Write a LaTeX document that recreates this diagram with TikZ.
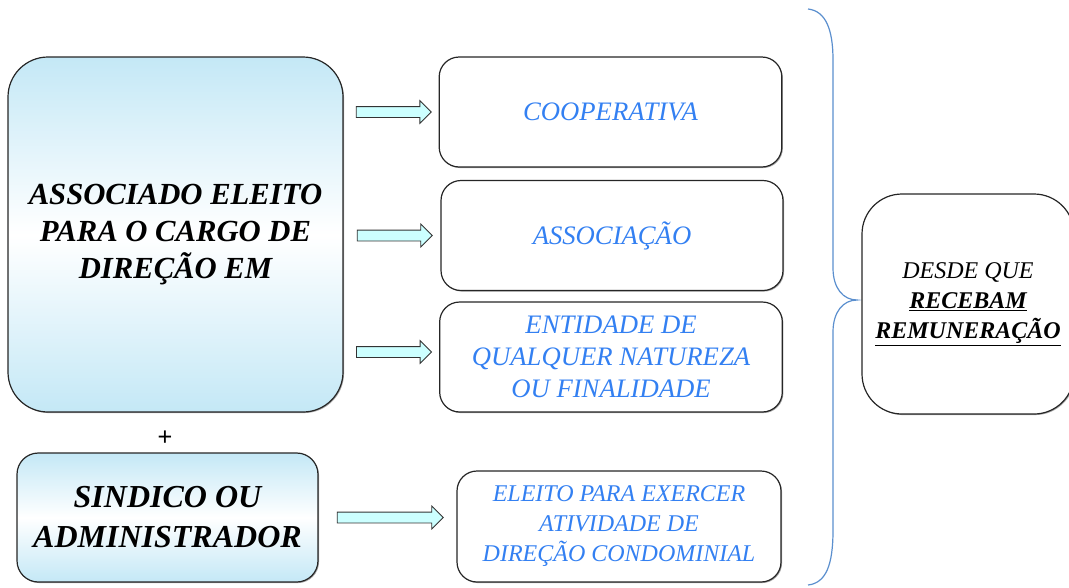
\documentclass[tikz,border=0pt]{standalone}
\usepackage{fontspec}
\setmainfont{Liberation Serif}
\newfontfamily\plusfont{Liberation Sans}
\usetikzlibrary{calc,shapes.arrows,shadows}
\definecolor{cargoblue}{RGB}{196,232,246}
\definecolor{entityblue}{RGB}{51,128,242}
\definecolor{bracketblue}{RGB}{91,143,206}
\definecolor{arrowcyan}{RGB}{204,255,255}
\tikzset{
  cargopicture/.style={x=0.75pt, y=-0.75pt},
  boxshadow/.style={drop shadow={shadow xshift=0.8pt, shadow yshift=-0.8pt, fill=black, opacity=0.35}},
  cargobox/.style={draw=black!85, line width=0.9pt, align=center, top color=cargoblue, bottom color=cargoblue, middle color=white, boxshadow},
  entitybox/.style={draw=black!85, line width=0.9pt, rounded corners=15pt, align=center, fill=white, text=entityblue, boxshadow, minimum width=257pt, minimum height=82.5pt, font=\fontsize{20}{24}\selectfont\itshape},
  pointerarrow/.style={single arrow, draw=black!80, line width=0.6pt, fill=arrowcyan, inner sep=3.75pt, single arrow head extend=4.5pt, minimum height=56.25pt},
  bracketline/.style={draw=bracketblue, line width=0.9pt}
}
\begin{document}
\begin{tikzpicture}[cargopicture]
\useasboundingbox (0,0) rectangle (1069,587);
% left side
\node[cargobox, rounded corners=30pt, minimum width=251.25pt, minimum height=266.25pt, font=\fontsize{23}{28}\selectfont\bfseries\itshape] (associado) at (175.5,234.5) {ASSOCIADO ELEITO\\PARA O CARGO DE\\DIREÇÃO EM};
\node[font=\plusfont\fontsize{19}{19}\selectfont] (plus) at (165,438) {+};
\node[cargobox, rounded corners=16pt, minimum width=225.75pt, minimum height=96.75pt, font=\fontsize{24}{30}\selectfont\bfseries\itshape] (sindico) at (167.5,517.5) {SINDICO OU\\ADMINISTRADOR};
% entities
\node[entitybox] (cooperativa) at (610.5,112) {COOPERATIVA};
\node[entitybox, minimum width=256.5pt] (associacao) at (612,235.5) {ASSOCIAÇÃO};
\node[entitybox] (entidade) at (611,357) {ENTIDADE DE\\QUALQUER NATUREZA\\OU FINALIDADE};
\node[entitybox, minimum width=243pt, minimum height=83.25pt, font=\fontsize{18}{22.5}\selectfont\itshape] (eleito) at (619,526.5) {ELEITO PARA EXERCER\\ATIVIDADE DE\\DIREÇÃO CONDOMINIAL};
% arrows
\node[pointerarrow] (arrowA) at ($(associado.east |- cooperativa)!0.5!(cooperativa.west)$) {};
\node[pointerarrow] (arrowB) at ($(associado.east |- associacao)!0.5!(associacao.west)$) {};
\node[pointerarrow, yshift=3.75pt] (arrowC) at ($(associado.east |- entidade)!0.5!(entidade.west)$) {};
\node[pointerarrow, minimum height=79.5pt] (arrowD) at ($(sindico.east)!0.5!(eleito.west |- sindico)$) {};
% brace and condition
\draw[bracketline] (808,9) .. controls (826,11) and (833,30) .. (833,60) -- (833,268) .. controls (833,288) and (843,300) .. (857,300) .. controls (843,300) and (833,312) .. (833,332) -- (833,530) .. controls (833,565) and (826,583) .. (808,585);
\node[entitybox, text=black, rounded corners=30pt, minimum width=159pt, minimum height=165pt, font=\fontsize{18}{22.5}\selectfont\itshape] (desde) at (968,304) {DESDE QUE\\\underline{\textbf{RECEBAM}}\\\underline{\textbf{REMUNERAÇÃO}}};
\end{tikzpicture}
\end{document}
